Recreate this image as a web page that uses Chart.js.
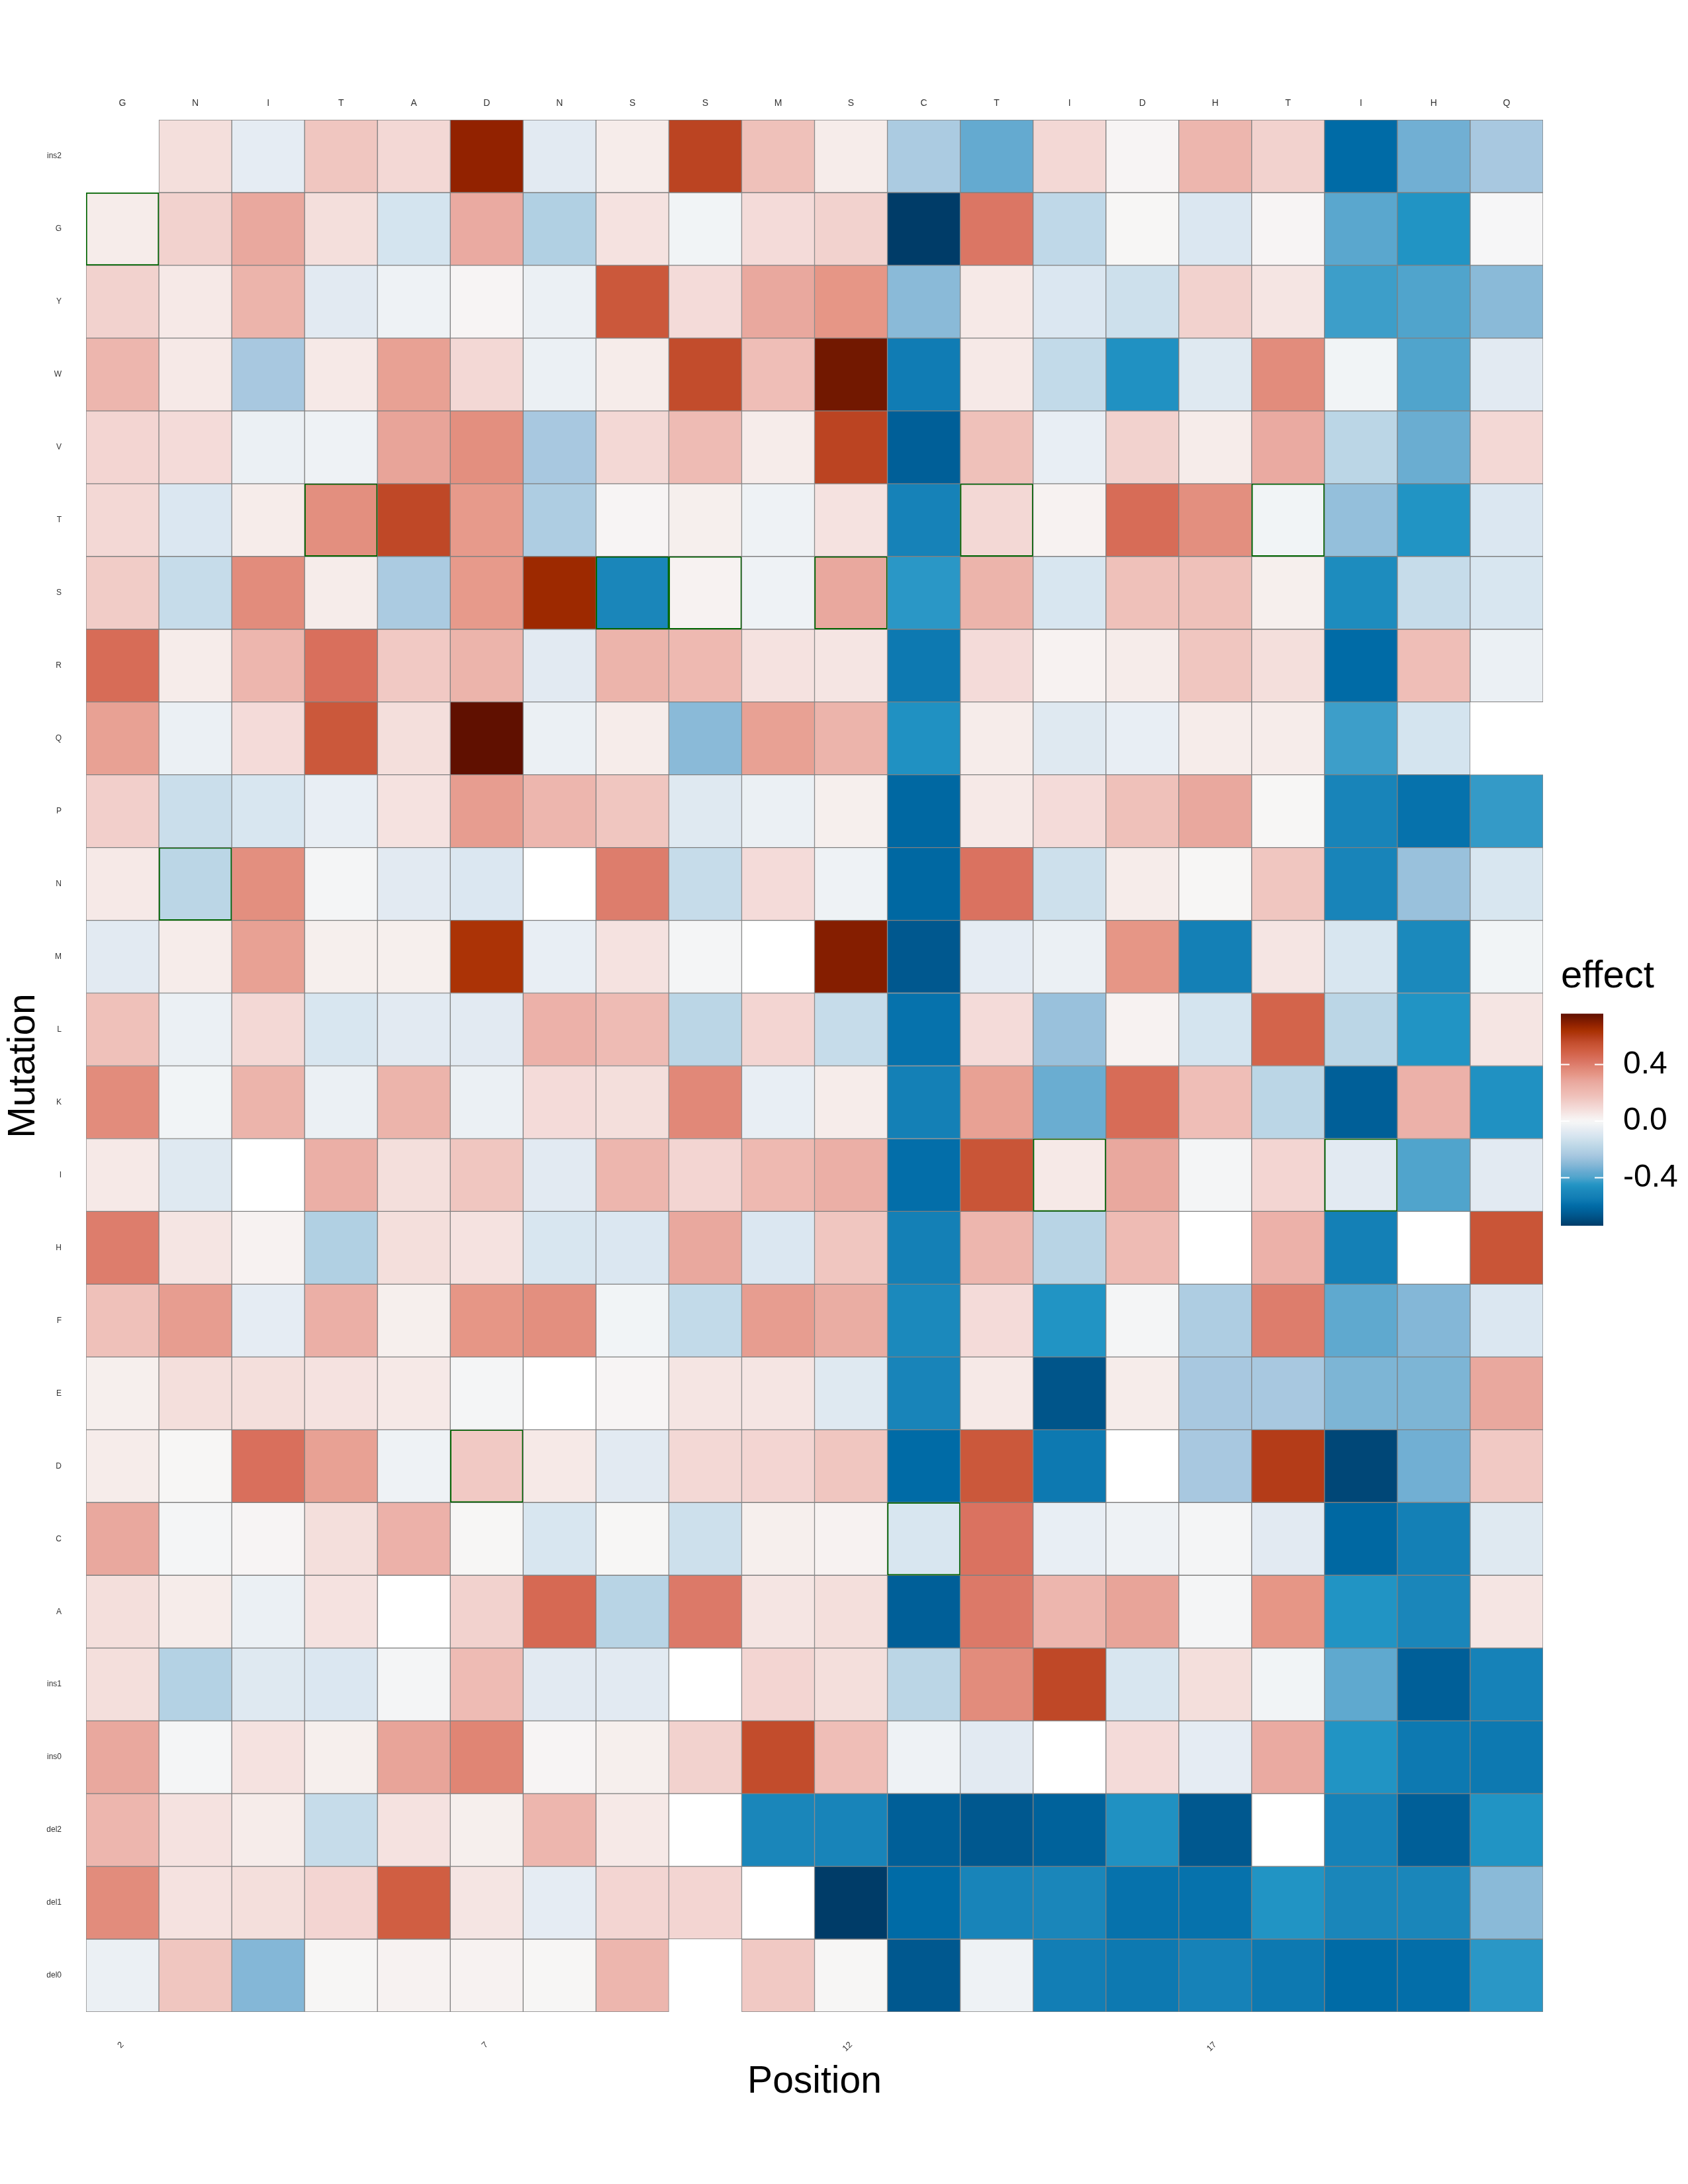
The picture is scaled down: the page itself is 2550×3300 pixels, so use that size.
<!DOCTYPE html>
<html lang="en">
<head>
<meta charset="utf-8" />
<title>Mutation effect heatmap</title>
<script src="https://cdn.jsdelivr.net/npm/chart.js"></script>
<style>
  body { margin: 0; background: #fff; }
  #wrap { position: relative; width: 2550px; height: 3300px; }
  #heatmap { position: absolute; left: 0; top: 0; }
  #colorbar { position: absolute; left: 2340px; top: 1440px; }
</style>
</head>
<body>
<div id="wrap">
  <canvas id="heatmap" width="2550" height="3300"></canvas>
  <canvas id="colorbar" width="210" height="471"></canvas>
</div>
<script>
// columns (bottom axis) and wild-type residue at each position (top axis)
const positions = ['2','3','4','5','6','7','8','9','10','11','12','13','14','15','16','17','18','19','20','21'];
const residues = ['G','N','I','T','A','D','N','S','S','M','S','C','T','I','D','H','T','I','H','Q'];
const positionTicks = ['2','7','12','17'];
// rows, top to bottom
const mutations = ['ins2','G','Y','W','V','T','S','R','Q','P','N','M','L','K','I','H','F','E','D','C','A','ins1','ins0','del2','del1','del0'];
const colorbarTicks = [-0.4, 0, 0.4];

// effect per row (same order as mutations), one value per position
// null = no tile, NaN = white tile
const effect = [
  [null, 0.08, -0.06, 0.16, 0.10, 0.68, -0.07, 0.04, 0.58, 0.18, 0.04, -0.23, -0.36, 0.10, 0.01, 0.22, 0.12, -0.60, -0.34, -0.24], // ins2
  [0.04, 0.12, 0.28, 0.08, -0.11, 0.27, -0.21, 0.07, -0.02, 0.09, 0.12, -0.74, 0.42, -0.17, 0.005, -0.09, 0.01, -0.38, -0.45, -0.005], // G
  [0.12, 0.05, 0.23, -0.07, -0.03, 0.01, -0.04, 0.52, 0.09, 0.28, 0.33, -0.30, 0.05, -0.09, -0.13, 0.12, 0.06, -0.42, -0.40, -0.30], // Y
  [0.22, 0.05, -0.24, 0.05, 0.30, 0.10, -0.04, 0.04, 0.56, 0.19, 0.73, -0.55, 0.05, -0.16, -0.46, -0.08, 0.36, -0.02, -0.40, -0.07], // W
  [0.11, 0.09, -0.04, -0.03, 0.29, 0.35, -0.24, 0.10, 0.20, 0.04, 0.58, -0.64, 0.18, -0.05, 0.12, 0.04, 0.27, -0.18, -0.35, 0.10], // V
  [0.10, -0.09, 0.04, 0.35, 0.57, 0.32, -0.22, 0.01, 0.03, -0.03, 0.07, -0.52, 0.10, 0.02, 0.45, 0.35, -0.02, -0.28, -0.45, -0.09], // T
  [0.14, -0.15, 0.36, 0.04, -0.23, 0.32, 0.66, -0.50, 0.02, -0.03, 0.28, -0.44, 0.23, -0.10, 0.18, 0.18, 0.03, -0.48, -0.15, -0.10], // S
  [0.45, 0.04, 0.22, 0.44, 0.15, 0.23, -0.07, 0.23, 0.21, 0.07, 0.06, -0.56, 0.09, 0.02, 0.04, 0.16, 0.08, -0.60, 0.19, -0.04], // R
  [0.30, -0.04, 0.09, 0.52, 0.08, 0.76, -0.04, 0.04, -0.30, 0.30, 0.23, -0.46, 0.04, -0.08, -0.05, 0.04, 0.04, -0.42, -0.11, null], // Q
  [0.13, -0.14, -0.10, -0.05, 0.07, 0.31, 0.22, 0.16, -0.08, -0.04, 0.03, -0.61, 0.05, 0.09, 0.18, 0.28, 0.005, -0.51, -0.58, -0.43], // P
  [0.05, -0.18, 0.35, -0.01, -0.07, -0.09, NaN, 0.40, -0.15, 0.09, -0.03, -0.61, 0.43, -0.13, 0.04, 0.005, 0.16, -0.51, -0.27, -0.10], // N
  [-0.07, 0.04, 0.30, 0.03, 0.03, 0.63, -0.05, 0.07, -0.01, NaN, 0.70, -0.66, -0.06, -0.04, 0.33, -0.53, 0.06, -0.10, -0.49, -0.02], // M
  [0.18, -0.04, 0.10, -0.10, -0.07, -0.07, 0.24, 0.20, -0.18, 0.11, -0.15, -0.58, 0.09, -0.27, 0.02, -0.11, 0.48, -0.18, -0.45, 0.06], // L
  [0.36, -0.02, 0.23, -0.04, 0.23, -0.04, 0.09, 0.08, 0.37, -0.05, 0.04, -0.53, 0.30, -0.35, 0.45, 0.19, -0.18, -0.64, 0.24, -0.46], // K
  [0.05, -0.08, NaN, 0.25, 0.08, 0.16, -0.07, 0.22, 0.11, 0.21, 0.25, -0.59, 0.53, 0.05, 0.28, -0.01, 0.11, -0.07, -0.40, -0.07], // I
  [0.40, 0.06, 0.02, -0.21, 0.08, 0.07, -0.10, -0.09, 0.28, -0.09, 0.16, -0.53, 0.22, -0.19, 0.20, NaN, 0.24, -0.53, NaN, 0.53], // H
  [0.18, 0.31, -0.06, 0.25, 0.03, 0.33, 0.35, -0.02, -0.16, 0.31, 0.26, -0.49, 0.09, -0.45, -0.01, -0.22, 0.40, -0.37, -0.31, -0.09], // F
  [0.03, 0.08, 0.08, 0.07, 0.05, -0.01, NaN, 0.01, 0.06, 0.06, -0.08, -0.51, 0.05, -0.67, 0.04, -0.24, -0.24, -0.32, -0.32, 0.28], // E
  [0.04, 0.005, 0.44, 0.30, -0.03, 0.15, 0.05, -0.07, 0.10, 0.11, 0.16, -0.60, 0.52, -0.56, NaN, -0.24, 0.60, -0.71, -0.34, 0.15], // D
  [0.28, -0.01, 0.01, 0.08, 0.24, 0.005, -0.10, 0.005, -0.13, 0.03, 0.02, -0.10, 0.43, -0.05, -0.03, -0.01, -0.07, -0.61, -0.53, -0.08], // C
  [0.08, 0.04, -0.04, 0.07, NaN, 0.12, 0.46, -0.19, 0.41, 0.06, 0.08, -0.64, 0.41, 0.22, 0.29, -0.01, 0.33, -0.45, -0.50, 0.06], // A
  [0.08, -0.20, -0.08, -0.09, -0.01, 0.20, -0.07, -0.07, NaN, 0.11, 0.08, -0.18, 0.36, 0.57, -0.10, 0.08, -0.02, -0.37, -0.64, -0.52], // ins1
  [0.28, -0.01, 0.07, 0.03, 0.29, 0.38, 0.01, 0.03, 0.12, 0.56, 0.19, -0.03, -0.07, NaN, 0.09, -0.06, 0.27, -0.45, -0.56, -0.56], // ins0
  [0.22, 0.07, 0.04, -0.15, 0.07, 0.03, 0.22, 0.05, NaN, -0.50, -0.51, -0.64, -0.66, -0.63, -0.46, -0.66, NaN, -0.52, -0.64, -0.45], // del2
  [0.36, 0.07, 0.08, 0.11, 0.50, 0.06, -0.06, 0.11, 0.11, NaN, -0.74, -0.60, -0.51, -0.50, -0.58, -0.58, -0.45, -0.50, -0.50, -0.30], // del1
  [-0.04, 0.16, -0.31, 0.005, 0.02, 0.02, 0.005, 0.22, null, 0.15, 0.005, -0.66, -0.03, -0.54, -0.56, -0.52, -0.56, -0.60, -0.59, -0.44]  // del0
];

// tiles outlined in green: [position, mutation]
const wildTypeCells = [['2','G'],['3','N'],['5','T'],['7','D'],['9','S'],['10','S'],['12','S'],['13','C'],['14','T'],['15','I'],['18','T'],['19','I']];

// colour scale
const colorStops = [
  [-0.74, '#003c68'], [-0.70, '#004a7c'], [-0.65, '#005c94'], [-0.60, '#006ba6'],
  [-0.55, '#107cb4'], [-0.50, '#1a86ba'], [-0.45, '#2194c4'], [-0.40, '#50a4cc'],
  [-0.36, '#64aad0'], [-0.30, '#8abad8'], [-0.24, '#a8c8e0'], [-0.20, '#b4d2e4'],
  [-0.15, '#c6dcea'], [-0.10, '#d8e6f0'], [-0.07, '#e2eaf2'], [-0.03, '#eef2f5'],
  [0, '#f7f7f7'], [0.04, '#f6ecea'], [0.10, '#f3d8d5'], [0.16, '#f0c6c0'],
  [0.22, '#edb6ae'], [0.28, '#e9a89e'], [0.33, '#e69686'], [0.36, '#e28c7c'],
  [0.43, '#da7260'], [0.50, '#d05e42'], [0.56, '#c24c2c'], [0.60, '#b43c18'],
  [0.64, '#a83000'], [0.68, '#922200'], [0.72, '#781a00'], [0.76, '#601000']
];

function hexRgb(h) {
  return [parseInt(h.slice(1, 3), 16), parseInt(h.slice(3, 5), 16), parseInt(h.slice(5, 7), 16)];
}

function effectColor(v) {
  if (Number.isNaN(v)) return '#ffffff';
  if (v <= colorStops[0][0]) return colorStops[0][1];
  for (let i = 1; i < colorStops.length; i++) {
    if (v <= colorStops[i][0]) {
      const [v0, c0] = colorStops[i - 1];
      const [v1, c1] = colorStops[i];
      const t = (v - v0) / (v1 - v0);
      const a = hexRgb(c0), b = hexRgb(c1);
      const rgb = a.map((x, k) => Math.round(x + (b[k] - x) * t));
      return 'rgb(' + rgb.join(',') + ')';
    }
  }
  return colorStops[colorStops.length - 1][1];
}

function isWildType(col, mut) {
  return wildTypeCells.some(([p, m]) => p === positions[col] && m === mut);
}

Chart.defaults.font.family = "'Liberation Sans', Arial, sans-serif";
Chart.defaults.color = '#333';

// one floating-bar dataset per mutation row
const datasets = mutations.map((mut, r) => ({
  label: mut,
  data: effect[r].map(v => v === null ? null : [r, r + 1]),
  backgroundColor: effect[r].map(v => v === null ? 'rgba(0,0,0,0)' : effectColor(v)),
  borderColor: effect[r].map((v, c) => isWildType(c, mut) ? '#006400' : '#808080'),
  borderWidth: effect[r].map((v, c) => isWildType(c, mut) ? 2 : 1),
  borderSkipped: false,
  grouped: false,
  barPercentage: 1,
  categoryPercentage: 1
}));

new Chart(document.getElementById('heatmap'), {
  type: 'bar',
  data: { labels: positions, datasets: datasets },
  options: {
    responsive: false,
    animation: false,
    layout: { padding: { left: 0, right: 219, top: 0, bottom: 0 } },
    plugins: { legend: { display: false }, tooltip: { enabled: false } },
    scales: {
      x: {
        type: 'category',
        position: 'bottom',
        offset: true,
        grid: { display: false, drawTicks: false },
        border: { display: false },
        ticks: {
          autoSkip: false,
          minRotation: 45,
          maxRotation: 45,
          padding: 42,
          font: { size: 13 },
          callback: (v, i) => positionTicks.includes(positions[i]) ? positions[i] : ''
        },
        title: { display: true, text: 'Position', color: '#000', font: { size: 57 }, padding: { top: 0, bottom: 120 } },
        afterFit: s => { s.height = 260; }
      },
      xTop: {
        type: 'category',
        position: 'top',
        labels: residues,
        offset: true,
        grid: { display: false, drawTicks: false },
        border: { display: false },
        ticks: { autoSkip: false, maxRotation: 0, padding: 16, font: { size: 14 } },
        afterFit: s => { s.height = 181; }
      },
      y: {
        type: 'linear',
        min: 0,
        max: 26,
        reverse: true,
        grid: { display: false, drawTicks: false },
        border: { display: false },
        afterBuildTicks: s => { s.ticks = mutations.map((m, i) => ({ value: i + 0.5 })); },
        ticks: { autoSkip: false, padding: 37, font: { size: 12 }, callback: (v, i) => mutations[i] },
        title: { display: true, text: 'Mutation', color: '#000', font: { size: 57 }, padding: { top: 2, bottom: 0 } },
        afterFit: s => { s.width = 130; }
      }
    }
  }
});

// colour bar legend
const finite = effect.flat().filter(v => v !== null && !Number.isNaN(v));
const vMin = Math.min(...finite);
const vMax = Math.max(...finite);

const colorbarTickMarks = {
  id: 'colorbarTickMarks',
  afterDatasetsDraw(chart) {
    const { ctx, chartArea, scales: { y } } = chart;
    ctx.save();
    ctx.strokeStyle = '#ffffff';
    ctx.lineWidth = 2;
    colorbarTicks.forEach(v => {
      const py = y.getPixelForValue(v);
      ctx.beginPath();
      ctx.moveTo(chartArea.left, py);
      ctx.lineTo(chartArea.left + 13, py);
      ctx.moveTo(chartArea.right - 13, py);
      ctx.lineTo(chartArea.right, py);
      ctx.stroke();
    });
    ctx.restore();
  }
};

new Chart(document.getElementById('colorbar'), {
  type: 'bar',
  data: {
    labels: ['effect'],
    datasets: [{
      data: [[vMin, vMax]],
      backgroundColor: c => {
        const area = c.chart.chartArea;
        if (!area) return effectColor(0);
        const g = c.chart.ctx.createLinearGradient(0, area.bottom, 0, area.top);
        for (let i = 0; i <= 60; i++) {
          g.addColorStop(i / 60, effectColor(vMin + (vMax - vMin) * i / 60));
        }
        return g;
      },
      borderWidth: 0,
      barPercentage: 1,
      categoryPercentage: 1
    }]
  },
  options: {
    responsive: false,
    animation: false,
    layout: { padding: { left: 18, right: 0, top: 0, bottom: 0 } },
    plugins: {
      legend: { display: false },
      tooltip: { enabled: false },
      title: { display: true, text: 'effect', align: 'start', color: '#000', font: { size: 58, weight: 'normal' }, padding: { top: 1, bottom: 21 } }
    },
    scales: {
      x: { display: false },
      y: {
        position: 'right',
        min: vMin,
        max: vMax,
        grid: { display: false, drawTicks: false },
        border: { display: false },
        afterBuildTicks: s => { s.ticks = colorbarTicks.map(v => ({ value: v })); },
        ticks: { padding: 30, color: '#000', font: { size: 48 }, callback: v => v.toFixed(1) },
        afterFit: s => { s.width = 128; }
      }
    }
  },
  plugins: [colorbarTickMarks]
});
</script>
</body>
</html>
